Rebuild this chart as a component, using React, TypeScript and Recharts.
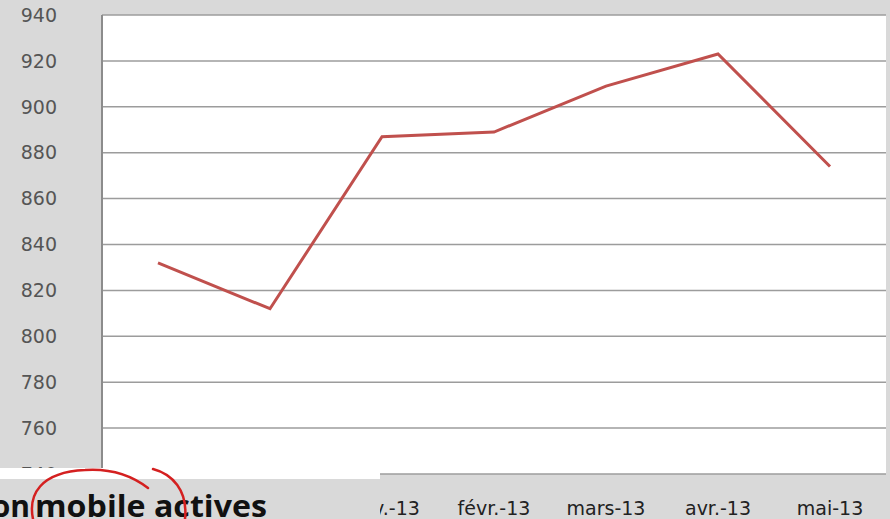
import React from 'react';
import { LineChart, Line, XAxis, YAxis, CartesianGrid } from 'recharts';

const categories = ['nov.-12', 'déc.-12', 'janv.-13', 'févr.-13', 'mars-13', 'avr.-13', 'mai-13'];
const values = [832, 812, 887, 889, 909, 923, 874];
const yTicks = [740, 760, 780, 800, 820, 840, 860, 880, 900, 920, 940];
const captionHead = 'on';
const captionMain = 'mobile actives';

const data = categories.map((month, i) => ({ month, value: values[i] }));

export default function App() {
  return (
    <div
      style={{
        position: 'absolute',
        left: 0,
        top: 0,
        width: 890,
        height: 519,
        background: '#d9d9d9',
        fontFamily: '"DejaVu Sans", sans-serif',
        overflow: 'hidden',
      }}
    >
      <LineChart
        width={890}
        height={519}
        data={data}
        margin={{ top: 15, right: 4, left: 0, bottom: 0 }}
      >
        <CartesianGrid
          vertical={false}
          fill="#ffffff"
          fillOpacity={1}
          stroke="#9c9c9c"
          strokeWidth={1.5}
        />
        <XAxis
          dataKey="month"
          height={45}
          interval={0}
          axisLine={false}
          tickLine={false}
          tickSize={0}
          tickMargin={28}
          padding={{ left: 56, right: 56 }}
          tick={{ fill: '#222', fontSize: 19 }}
        />
        <YAxis
          width={102}
          domain={[740, 940]}
          ticks={yTicks}
          interval={0}
          tickLine={false}
          tickSize={0}
          tickMargin={45}
          axisLine={{ stroke: '#8c8c8c', strokeWidth: 2 }}
          tick={{ fill: '#555', fontSize: 19 }}
        />
        <Line
          type="linear"
          dataKey="value"
          stroke="#c0504d"
          strokeWidth={3}
          dot={false}
          isAnimationActive={false}
        />
      </LineChart>
      <svg
        width={890}
        height={519}
        style={{ position: 'absolute', left: 0, top: 0, pointerEvents: 'none' }}
      >
        <rect x={0} y={468} width={380} height={11} fill="#ffffff" />
        <rect x={0} y={479} width={380} height={40} fill="#d9d9d9" />
        <text
          x={30}
          y={517}
          textAnchor="end"
          fontFamily='"Open Sans", sans-serif'
          fontWeight={700}
          fontSize={30}
          fill="#111"
        >
          {captionHead}
        </text>
        <text
          x={35}
          y={517}
          textLength={232}
          lengthAdjust="spacingAndGlyphs"
          fontFamily='"Open Sans", sans-serif'
          fontWeight={700}
          fontSize={30}
          fill="#111"
        >
          {captionMain}
        </text>
        <path
          d="M 33 519 C 28 495, 40 472, 85 470 C 115 468, 135 478, 148 488"
          fill="none"
          stroke="#d42020"
          strokeWidth={2.5}
          strokeLinecap="round"
        />
        <path
          d="M 153 469 C 172 474, 188 490, 185 519"
          fill="none"
          stroke="#d42020"
          strokeWidth={2.5}
          strokeLinecap="round"
        />
      </svg>
    </div>
  );
}
